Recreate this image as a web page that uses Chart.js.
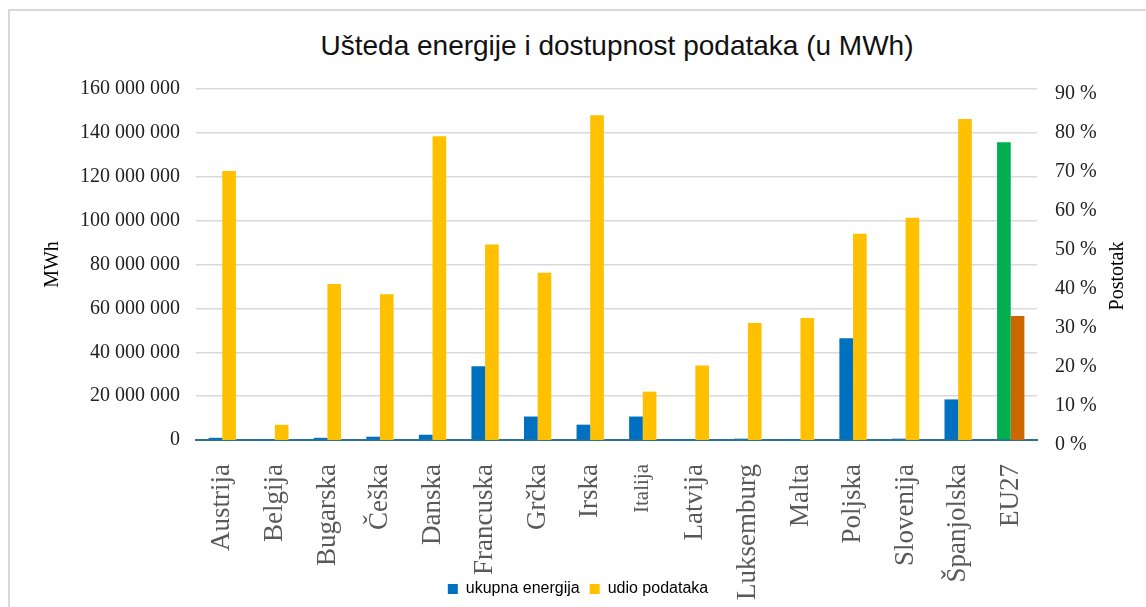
<!DOCTYPE html>
<html>
<head>
<meta charset="utf-8">
<script src="https://cdn.jsdelivr.net/npm/chart.js@4.4.0/dist/chart.umd.min.js"></script>
<style>
  body { margin: 0; background: #fff; width: 1146px; height: 607px; overflow: hidden; position: relative; }
  #frame { position: absolute; left: 8px; top: 9px; width: 1150px; height: 610px; border: 2px solid #d9d9d9; box-sizing: border-box; }
  #title { position: absolute; left: 0; width: 1234px; top: 30px; text-align: center;
           font: 28px "Liberation Sans", Arial, sans-serif; color: #111; }
  #rightTitle { position: absolute; left: 1067px; top: 264px; width: 100px; height: 24px; line-height: 24px;
                text-align: center; transform: rotate(-90deg);
                font: 20px "Liberation Serif", "Times New Roman", serif; color: #000; }
  #wrap { position: absolute; left: 10px; top: 11px; width: 1136px; height: 596px; }
</style>
</head>
<body>
<div id="frame"></div>
<div id="title">Ušteda energije i dostupnost podataka (u MWh)</div>
<div id="wrap"><canvas id="myChart" width="1136" height="596"></canvas></div>
<div id="rightTitle">Postotak</div>
<script>
var countries = ['Austrija', 'Belgija', 'Bugarska', 'Češka', 'Danska', 'Francuska', 'Grčka', 'Irska',
  'Italija', 'Latvija', 'Luksemburg', 'Malta', 'Poljska', 'Slovenija', 'Španjolska', 'EU27'];
// MWh
var totalEnergy = [1000000, 200000, 1000000, 1500000, 2400000, 33600000, 10700000, 7000000,
  10700000, 100000, 600000, 100000, 46400000, 600000, 18500000, 135700000];
// postotak
var dataShare = [69, 3.9, 40, 37.4, 77.9, 50.1, 42.9, 83.3, 12.4, 19.1, 30, 31.3, 52.9, 57, 82.3, 31.8];

var energyTicks = [0, 20000000, 40000000, 60000000, 80000000, 100000000, 120000000, 140000000, 160000000];
var percentTicks = [0, 10, 20, 30, 40, 50, 60, 70, 80, 90];

function spaced(v) {
  return String(v).replace(/\B(?=(\d{3})+(?!\d))/g, ' ');
}

var blue = countries.map(function (c) { return c === 'EU27' ? '#00b050' : '#0070c0'; });
var yellow = countries.map(function (c) { return c === 'EU27' ? '#cc6600' : '#ffc000'; });

var serif = '"Liberation Serif", "Times New Roman", serif';

var ctx = document.getElementById('myChart').getContext('2d');
var myChart = new Chart(ctx, {
  type: 'bar',
  data: {
    labels: countries,
    datasets: [{
      label: 'ukupna energija',
      data: totalEnergy,
      backgroundColor: blue,
      yAxisID: 'y',
      categoryPercentage: 0.52,
      barPercentage: 1
    }, {
      label: 'udio podataka',
      data: dataShare,
      backgroundColor: yellow,
      yAxisID: 'y1',
      categoryPercentage: 0.52,
      barPercentage: 1
    }]
  },
  options: {
    responsive: false,
    animation: false,
    layout: { padding: { top: 78, left: 0, right: 0, bottom: 0 } },
    plugins: {
      title: { display: false },
      tooltip: { enabled: false },
      legend: {
        position: 'bottom',
        labels: {
          boxWidth: 10,
          boxHeight: 10,
          padding: 10,
          color: '#000',
          font: { family: '"Liberation Sans", Arial, sans-serif', size: 16 }
        }
      }
    },
    scales: {
      x: {
        grid: { display: false, drawTicks: false },
        border: { display: true, color: '#2e7196', width: 2 },
        ticks: {
          autoSkip: false,
          minRotation: 90,
          maxRotation: 90,
          padding: 24,
          color: '#595959',
          font: function (c) {
            return { family: serif, size: countries[c.index] === 'Italija' ? 21 : 27 };
          }
        },
        afterFit: function (s) {
          s.height = 131;
          // long labels run down past the axis box, as in the original
          s._computeLabelArea = function () { return undefined; };
        }
      },
      y: {
        position: 'left',
        min: 0,
        max: 160000000,
        afterBuildTicks: function (s) { s.ticks = energyTicks.map(function (v) { return { value: v }; }); },
        grid: { color: '#d9d9d9', lineWidth: 1.5, drawTicks: false },
        border: { display: false },
        ticks: {
          padding: 16,
          color: '#222',
          font: { family: serif, size: 20 },
          callback: function (v) { return spaced(v); }
        },
        title: {
          display: true,
          text: 'MWh',
          color: '#000',
          padding: { top: 31, bottom: 0 },
          font: { family: serif, size: 20 }
        },
        afterFit: function (s) { s.width = 186; }
      },
      y1: {
        position: 'right',
        min: 0,
        max: 90,
        afterBuildTicks: function (s) { s.ticks = percentTicks.map(function (v) { return { value: v }; }); },
        grid: { display: false, drawTicks: false },
        border: { display: false },
        ticks: {
          padding: 18,
          labelOffset: 5,
          color: '#222',
          font: { family: serif, size: 20 },
          callback: function (v) { return v + ' %'; }
        },
        afterFit: function (s) { s.width = 109; }
      }
    }
  }
});
</script>
</body>
</html>
